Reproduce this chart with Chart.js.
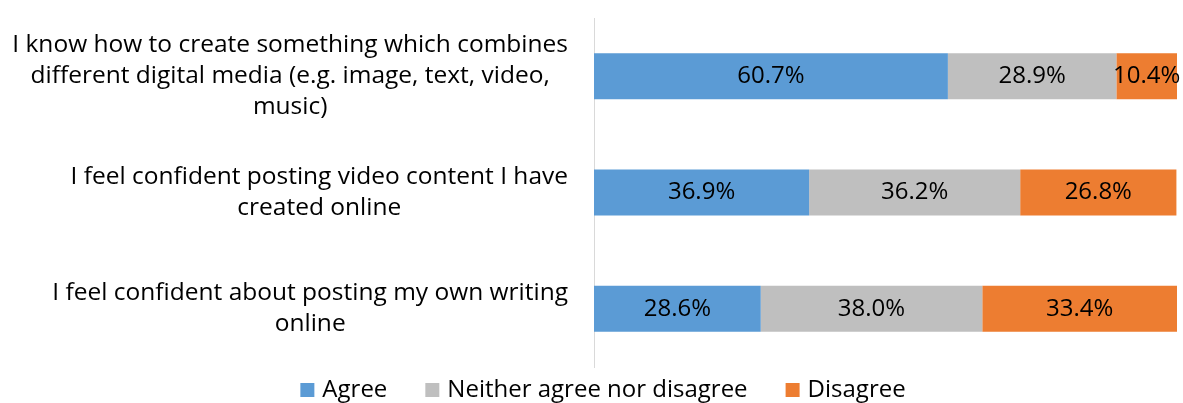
<!DOCTYPE html>
<html>
<head>
<meta charset="utf-8">
<script src="https://cdn.jsdelivr.net/npm/chart.js@4"></script>
<style>
html,body{margin:0;padding:0;background:#fff;}
#wrap{width:1183px;height:403px;position:relative;}
</style>
</head>
<body>
<div id="wrap"><canvas id="c"></canvas></div>
<script>
const categories = [
  ["I know how to create something which combines", "different digital media (e.g. image, text, video,", "music)"],
  ["I feel confident posting video content I have", "created online"],
  ["I feel confident about posting my own writing", "online"]
];
const seriesNames = ["Agree", "Neither agree nor disagree", "Disagree"];
const agree = [60.7, 36.9, 28.6];
const neither = [28.9, 36.2, 38.0];
const disagree = [10.4, 26.8, 33.4];
const colors = ['#5B9BD5', '#BFBFBF', '#ED7D31'];

const FONT = "'Open Sans'";
const FS = 24;
const FS_CAT = 24.5;

const yLabelPlugin = {
  id: 'yLabels',
  afterDraw(chart) {
    const ctx = chart.ctx;
    const ys = chart.scales.y;
    const right = chart.chartArea.left - 26;
    const lh = 31;
    ctx.save();
    ctx.font = FS_CAT + "px " + FONT;
    ctx.fillStyle = "#000";
    ctx.textAlign = "center";
    ctx.textBaseline = "middle";
    chart.data.labels.forEach((lines, i) => {
      const yc = ys.getPixelForValue(i);
      const w = Math.max(...lines.map(l => ctx.measureText(l).width));
      const cx = right - w / 2;
      const y0 = yc - (lines.length - 1) * lh / 2;
      lines.forEach((l, j) => ctx.fillText(l, cx, y0 + j * lh));
    });
    ctx.restore();
  }
};

const valueLabelPlugin = {
  id: 'valueLabels',
  afterDatasetsDraw(chart) {
    const ctx = chart.ctx;
    ctx.save();
    ctx.font = FS + "px " + FONT;
    ctx.fillStyle = "#000";
    ctx.textAlign = "center";
    ctx.textBaseline = "middle";
    chart.data.datasets.forEach((ds, di) => {
      const meta = chart.getDatasetMeta(di);
      meta.data.forEach((bar, i) => {
        const x = (bar.x + bar.base) / 2;
        ctx.fillText(ds.data[i].toFixed(1) + "%", x, bar.y);
      });
    });
    ctx.restore();
  }
};

const legendPlugin = {
  id: 'bottomLegend',
  afterDraw(chart) {
    const ctx = chart.ctx;
    const box = 14, gapBoxText = 8, gapItems = 38;
    const centerX = 603;
    const y = 390;
    ctx.save();
    ctx.font = FS + "px " + FONT;
    ctx.textBaseline = "middle";
    ctx.textAlign = "left";
    const items = chart.data.datasets.map(ds => ({
      text: ds.label, color: ds.backgroundColor, w: ctx.measureText(ds.label).width
    }));
    const total = items.reduce((s, it) => s + box + gapBoxText + it.w, 0) + gapItems * (items.length - 1);
    let x = centerX - total / 2;
    items.forEach(it => {
      ctx.fillStyle = it.color;
      ctx.fillRect(x, y - box / 2, box, box);
      x += box + gapBoxText;
      ctx.fillStyle = "#000";
      ctx.fillText(it.text, x, y);
      x += it.w + gapItems;
    });
    ctx.restore();
  }
};

new Chart(document.getElementById('c'), {
  type: 'bar',
  data: {
    labels: categories,
    datasets: [
      {label: seriesNames[0], data: agree, backgroundColor: colors[0]},
      {label: seriesNames[1], data: neither, backgroundColor: colors[1]},
      {label: seriesNames[2], data: disagree, backgroundColor: colors[2]}
    ]
  },
  options: {
    indexAxis: 'y',
    responsive: true,
    maintainAspectRatio: false,
    animation: false,
    layout: {padding: {left: 0, right: 6, top: 18, bottom: 36}},
    datasets: {bar: {barPercentage: 0.395, categoryPercentage: 1, borderWidth: 0}},
    scales: {
      x: {stacked: true, min: 0, max: 100, display: false},
      y: {
        stacked: true,
        grid: {display: false},
        border: {display: true, color: '#d9d9d9', width: 1},
        ticks: {display: false},
        afterFit(scale) { scale.width = 594; }
      }
    },
    plugins: {
      tooltip: {enabled: false},
      legend: {display: false}
    }
  },
  plugins: [yLabelPlugin, valueLabelPlugin, legendPlugin]
});
</script>
</body>
</html>
